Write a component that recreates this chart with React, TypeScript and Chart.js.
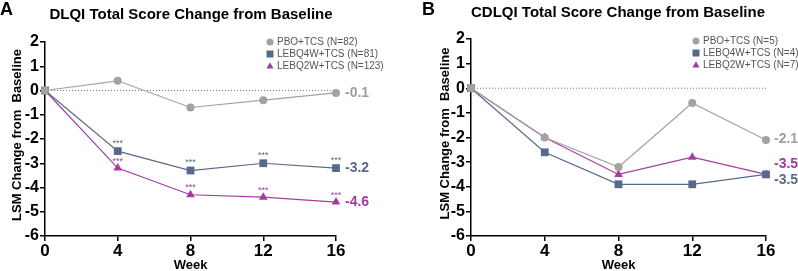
import React, { useEffect, useRef } from "react";
import { Chart, registerables } from "chart.js";

Chart.register(...registerables);

const weeks = [0, 4, 8, 12, 16];
const yTicks = [-6, -5, -4, -3, -2, -1, 0, 1, 2];

const seriesNames = ["PBO+TCS", "LEBQ4W+TCS", "LEBQ2W+TCS"];
const dlqiN = [82, 81, 123];
const cdlqiN = [5, 4, 7];

const dlqiPbo = [0, 0.4, -0.7, -0.4, -0.1];
const dlqiQ4w = [0, -2.5, -3.3, -3.0, -3.2];
const dlqiQ2w = [0, -3.2, -4.3, -4.4, -4.6];

const cdlqiPbo = [0, -2.0, -3.2, -0.6, -2.1];
const cdlqiQ4w = [0, -2.6, -3.9, -3.9, -3.5];
const cdlqiQ2w = [0, -2.0, -3.5, -2.8, -3.5];

const dlqiEndLabels = ["-0.1", "-3.2", "-4.6"];
const cdlqiEndLabels = ["-2.1", "-3.5", "-3.5"];

const COLORS = ["#a7a19d", "#586a8c", "#a43ca4"];
const TEXT_COLORS = ["#a29d99", "#5a6a8a", "#a23aa2"];
const STYLES: any[] = ["circle", "rect", "triangle"];
const RADII = [4, 5.5, 5];
const FONT = "'Liberation Sans', Arial, sans-serif";

type PanelCfg = {
  letter: string;
  letterX: number;
  title: string;
  titleX: number;
  titleY: number;
  series: number[][];
  ns: number[];
  endLabels: string[];
  endLabelOffsets: number[];
  endLabelGap: number;
  axisLeft: number;
  rightPad: number;
  top: number;
  yTitleX: number;
  legendX: number;
  legendY: number;
  legendStep: number;
  stars: boolean;
  width: number;
};

function drawMarker(ctx: CanvasRenderingContext2D, style: string, x: number, y: number, r: number, color: string) {
  ctx.save();
  ctx.fillStyle = color;
  ctx.beginPath();
  if (style === "circle") {
    ctx.arc(x, y, r, 0, Math.PI * 2);
  } else if (style === "rect") {
    ctx.rect(x - r, y - r, 2 * r, 2 * r);
  } else {
    ctx.moveTo(x, y - r * 1.1);
    ctx.lineTo(x + r, y + r * 0.7);
    ctx.lineTo(x - r, y + r * 0.7);
    ctx.closePath();
  }
  ctx.fill();
  ctx.restore();
}

function Panel({ cfg }: { cfg: PanelCfg }) {
  const ref = useRef<HTMLCanvasElement>(null);
  useEffect(() => {
    if (!ref.current) return;
    const overlay = {
      id: "overlay",
      beforeDatasetsDraw(chart: any) {
        const ctx = chart.ctx;
        const xs = chart.scales.x;
        const ys = chart.scales.y;
        const y0 = ys.getPixelForValue(0);
        ctx.save();
        ctx.strokeStyle = "#777";
        ctx.lineWidth = 1;
        ctx.setLineDash([1, 2]);
        ctx.beginPath();
        ctx.moveTo(xs.getPixelForValue(0), y0);
        ctx.lineTo(xs.getPixelForValue(16), y0);
        ctx.stroke();
        ctx.restore();
      },
      afterDraw(chart: any) {
        const ctx = chart.ctx;
        const xs = chart.scales.x;
        const ys = chart.scales.y;
        const area = chart.chartArea;
        ctx.save();
        ctx.fillStyle = "#000";
        ctx.font = `bold 18px ${FONT}`;
        ctx.textAlign = "left";
        ctx.textBaseline = "middle";
        ctx.fillText(cfg.letter, cfg.letterX, 10);
        ctx.font = `bold 15px ${FONT}`;
        ctx.textAlign = "center";
        ctx.fillText(cfg.title, cfg.titleX, cfg.titleY);
        ctx.save();
        ctx.translate(cfg.yTitleX, (area.top + area.bottom) / 2 - 4);
        ctx.rotate(-Math.PI / 2);
        ctx.font = `bold 13px ${FONT}`;
        ctx.textAlign = "center";
        ctx.textBaseline = "middle";
        ctx.fillText("LSM Change from  Baseline", 0, 0);
        ctx.restore();
        ctx.font = `bold 13px ${FONT}`;
        ctx.textAlign = "center";
        ctx.textBaseline = "middle";
        ctx.fillText("Week", (area.left + area.right) / 2, 265);
        ctx.font = `10px ${FONT}`;
        ctx.textAlign = "left";
        for (let i = 0; i < 3; i++) {
          const ly = cfg.legendY + i * cfg.legendStep;
          drawMarker(ctx, STYLES[i], cfg.legendX, ly, 3.5, COLORS[i]);
          ctx.fillStyle = "#555";
          ctx.fillText(`${seriesNames[i]} (N=${cfg.ns[i]})`, cfg.legendX + 7, ly + 0.5);
        }
        ctx.font = `bold 14px ${FONT}`;
        for (let i = 0; i < 3; i++) {
          const s = cfg.series[i];
          const v = s[s.length - 1];
          ctx.fillStyle = TEXT_COLORS[i];
          ctx.fillText(cfg.endLabels[i], xs.getPixelForValue(16) + cfg.endLabelGap, ys.getPixelForValue(v) + cfg.endLabelOffsets[i]);
        }
        if (cfg.stars) {
          ctx.font = `9px ${FONT}`;
          ctx.textAlign = "center";
          for (let i = 1; i < 3; i++) {
            ctx.fillStyle = TEXT_COLORS[i];
            const s = cfg.series[i];
            for (let j = 1; j < s.length; j++) {
              ctx.fillText("***", xs.getPixelForValue(weeks[j]), ys.getPixelForValue(s[j]) - (i === 1 ? 8 : 7));
            }
          }
        }
        ctx.restore();
      },
    };
    const chart = new Chart(ref.current, {
      type: "line",
      data: {
        datasets: cfg.series.map((s, i) => ({
          label: seriesNames[i],
          data: s.map((v, j) => ({ x: weeks[j], y: v })),
          borderColor: COLORS[i],
          backgroundColor: COLORS[i],
          borderWidth: 1.2,
          pointStyle: STYLES[i],
          pointRadius: RADII[i],
          pointBorderWidth: 0,
          tension: 0,
          clip: false as any,
        })),
      },
      options: {
        animation: false,
        responsive: false,
        devicePixelRatio: 1,
        layout: { padding: { top: cfg.top, right: cfg.rightPad, left: 0, bottom: 0 } },
        plugins: { legend: { display: false }, tooltip: { enabled: false } },
        scales: {
          x: {
            type: "linear",
            min: 0,
            max: 16,
            afterFit: (s: any) => {
              s.height = 271 - 236;
            },
            afterBuildTicks: (s: any) => {
              s.ticks = weeks.map((v) => ({ value: v }));
            },
            grid: { drawOnChartArea: false, drawTicks: true, tickLength: 5, color: "#000", lineWidth: 1.5 },
            border: { color: "#000", width: 1.5 },
            ticks: { color: "#000", font: { family: FONT, size: 17, weight: "bold" }, padding: 0, maxRotation: 0 },
          },
          y: {
            min: -6,
            max: 2,
            afterFit: (s: any) => {
              s.width = cfg.axisLeft;
            },
            afterBuildTicks: (s: any) => {
              s.ticks = yTicks.map((v) => ({ value: v }));
            },
            grid: { drawOnChartArea: false, drawTicks: true, tickLength: 5, color: "#000", lineWidth: 1.5 },
            border: { color: "#000", width: 1.5 },
            ticks: { color: "#000", font: { family: FONT, size: 16, weight: "bold" }, padding: 1 },
          },
        },
      } as any,
      plugins: [overlay],
    });
    return () => chart.destroy();
  }, []);
  return <canvas ref={ref} width={cfg.width} height={271} style={{ display: "block", width: cfg.width, height: 271 }} />;
}

const left: PanelCfg = {
  letter: "A",
  letterX: 0,
  title: "DLQI Total Score Change from Baseline",
  titleX: 191,
  titleY: 15,
  series: [dlqiPbo, dlqiQ4w, dlqiQ2w],
  ns: dlqiN,
  endLabels: dlqiEndLabels,
  endLabelOffsets: [0, 0, 0],
  endLabelGap: 9,
  axisLeft: 45,
  rightPad: 64,
  top: 42,
  yTitleX: 17,
  legendX: 270,
  legendY: 42,
  legendStep: 12,
  stars: true,
  width: 400,
};

const right: PanelCfg = {
  letter: "B",
  letterX: 22,
  title: "CDLQI Total Score Change from Baseline",
  titleX: 218,
  titleY: 13,
  series: [cdlqiPbo, cdlqiQ4w, cdlqiQ2w],
  ns: cdlqiN,
  endLabels: cdlqiEndLabels,
  endLabelOffsets: [-1, 6, -10],
  endLabelGap: 8,
  axisLeft: 71,
  rightPad: 32,
  top: 39,
  yTitleX: 45,
  legendX: 296,
  legendY: 41,
  legendStep: 12,
  stars: false,
  width: 398,
};

export default function App() {
  useEffect(() => {
    document.body.style.margin = "0";
  }, []);
  return (
    <div style={{ display: "flex", width: 798, height: 271, background: "#fff" }}>
      <Panel cfg={left} />
      <Panel cfg={right} />
    </div>
  );
}
